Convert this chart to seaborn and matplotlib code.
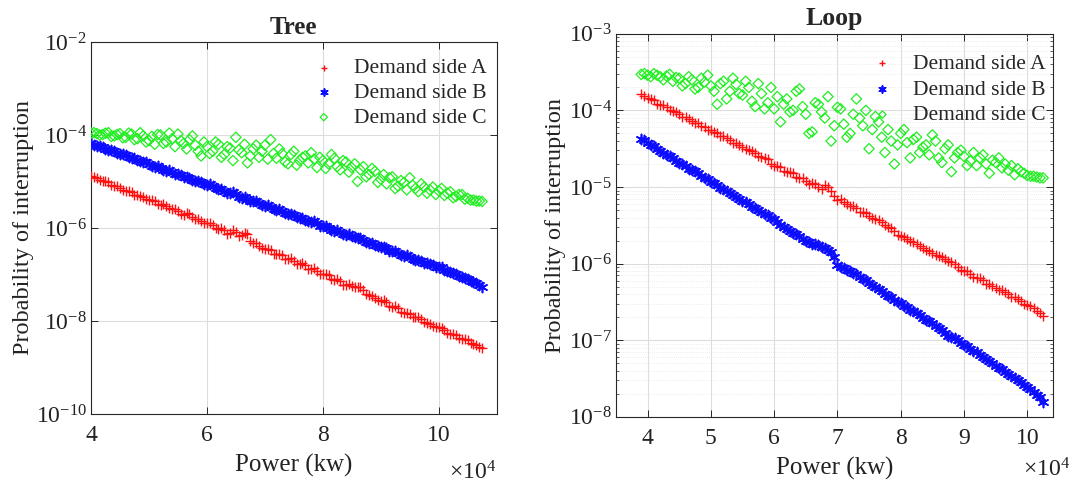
import matplotlib
matplotlib.use("Agg")
import numpy as np
import pandas as pd
import matplotlib.pyplot as plt
import seaborn as sns
from matplotlib.ticker import FixedLocator, LogFormatterMathtext, NullFormatter, MultipleLocator

# ---- data: power in units of 10^4 kW, interruption probabilities as log10 values ----
tree_power = [4.00, 4.05, 4.10, 4.15, 4.20, 4.25, 4.30, 4.35, 4.40, 4.45,
              4.50, 4.55, 4.60, 4.65, 4.70, 4.75, 4.80, 4.85, 4.90, 4.95,
              5.00, 5.05, 5.10, 5.15, 5.20, 5.25, 5.30, 5.35, 5.40, 5.45,
              5.50, 5.55, 5.60, 5.65, 5.70, 5.75, 5.80, 5.85, 5.90, 5.95,
              6.00, 6.05, 6.10, 6.15, 6.20, 6.25, 6.30, 6.35, 6.40, 6.45,
              6.50, 6.55, 6.60, 6.65, 6.70, 6.75, 6.80, 6.85, 6.90, 6.95,
              7.00, 7.05, 7.10, 7.15, 7.20, 7.25, 7.30, 7.35, 7.40, 7.45,
              7.50, 7.55, 7.60, 7.65, 7.70, 7.75, 7.80, 7.85, 7.90, 7.95,
              8.00, 8.05, 8.10, 8.15, 8.20, 8.25, 8.30, 8.35, 8.40, 8.45,
              8.50, 8.55, 8.60, 8.65, 8.70, 8.75, 8.80, 8.85, 8.90, 8.95,
              9.00, 9.05, 9.10, 9.15, 9.20, 9.25, 9.30, 9.35, 9.40, 9.45,
              9.50, 9.55, 9.60, 9.65, 9.70, 9.75, 9.80, 9.85, 9.90, 9.95,
              10.00, 10.05, 10.10, 10.15, 10.20, 10.25, 10.30, 10.35, 10.40, 10.45,
              10.50, 10.55, 10.60, 10.65, 10.70, 10.75]

tree_a_log10 = [-4.89, -4.90, -4.93, -4.97, -4.99, -5.00, -5.02, -5.07, -5.10, -5.10,
                -5.13, -5.18, -5.20, -5.21, -5.22, -5.28, -5.30, -5.31, -5.33, -5.38,
                -5.39, -5.40, -5.42, -5.48, -5.50, -5.49, -5.52, -5.58, -5.60, -5.60,
                -5.63, -5.70, -5.72, -5.68, -5.70, -5.77, -5.80, -5.80, -5.84, -5.90,
                -5.89, -5.90, -5.93, -6.00, -6.02, -6.00, -6.05, -6.12, -6.10, -6.05,
                -6.08, -6.18, -6.16, -6.10, -6.14, -6.28, -6.32, -6.33, -6.38, -6.44,
                -6.46, -6.45, -6.48, -6.55, -6.55, -6.55, -6.58, -6.66, -6.66, -6.65,
                -6.70, -6.77, -6.78, -6.76, -6.80, -6.88, -6.88, -6.87, -6.93, -7.00,
                -7.00, -6.98, -7.02, -7.10, -7.12, -7.10, -7.14, -7.22, -7.22, -7.20,
                -7.25, -7.28, -7.28, -7.26, -7.33, -7.42, -7.45, -7.46, -7.50, -7.56,
                -7.57, -7.56, -7.60, -7.68, -7.70, -7.68, -7.72, -7.80, -7.82, -7.82,
                -7.86, -7.92, -7.92, -7.91, -7.95, -8.03, -8.05, -8.06, -8.10, -8.14,
                -8.14, -8.16, -8.20, -8.26, -8.28, -8.27, -8.31, -8.37, -8.38, -8.39,
                -8.42, -8.48, -8.50, -8.51, -8.56, -8.58]

tree_b_log10 = [-4.18, -4.21, -4.23, -4.23, -4.26, -4.30, -4.32, -4.32, -4.35, -4.39,
                -4.41, -4.41, -4.44, -4.48, -4.50, -4.50, -4.53, -4.57, -4.59, -4.59,
                -4.62, -4.66, -4.68, -4.67, -4.70, -4.75, -4.77, -4.76, -4.80, -4.84,
                -4.84, -4.85, -4.90, -4.90, -4.92, -4.96, -4.99, -4.98, -5.02, -5.06,
                -5.07, -5.06, -5.10, -5.14, -5.16, -5.16, -5.20, -5.24, -5.25, -5.22,
                -5.27, -5.33, -5.35, -5.33, -5.37, -5.42, -5.43, -5.43, -5.47, -5.51,
                -5.52, -5.51, -5.55, -5.60, -5.61, -5.60, -5.64, -5.68, -5.70, -5.69,
                -5.73, -5.77, -5.78, -5.78, -5.83, -5.85, -5.87, -5.86, -5.90, -5.95,
                -5.96, -5.95, -6.00, -6.05, -6.06, -6.04, -6.08, -6.14, -6.15, -6.13,
                -6.18, -6.20, -6.22, -6.21, -6.26, -6.31, -6.33, -6.32, -6.36, -6.39,
                -6.40, -6.40, -6.44, -6.49, -6.50, -6.49, -6.53, -6.58, -6.60, -6.59,
                -6.62, -6.67, -6.68, -6.68, -6.72, -6.75, -6.76, -6.77, -6.80, -6.83,
                -6.84, -6.85, -6.90, -6.93, -6.94, -6.96, -7.00, -7.04, -7.05, -7.07,
                -7.10, -7.15, -7.17, -7.18, -7.23, -7.26]

tree_c_log10 = [-3.96, -3.95, -3.97, -4.00, -3.99, -3.96, -3.95, -4.03, -4.02, -3.99,
                -3.97, -4.06, -4.05, -3.96, -3.98, -4.10, -4.08, -3.95, -4.02, -4.15,
                -4.12, -4.03, -4.20, -3.99, -4.00, -4.18, -4.15, -3.96, -4.08, -4.25,
                -3.98, -4.12, -4.18, -4.30, -4.10, -4.02, -4.22, -4.35, -4.45, -4.15,
                -4.25, -4.40, -4.35, -4.15, -4.20, -4.48, -4.42, -4.25, -4.28, -4.55,
                -4.05, -4.32, -4.38, -4.20, -4.60, -4.45, -4.30, -4.22, -4.48, -4.35,
                -4.22, -4.52, -4.10, -4.40, -4.50, -4.30, -4.40, -4.58, -4.62, -4.42,
                -4.35, -4.65, -4.55, -4.48, -4.45, -4.60, -4.38, -4.52, -4.70, -4.48,
                -4.55, -4.72, -4.62, -4.42, -4.50, -4.68, -4.75, -4.55, -4.58, -4.80,
                -4.70, -4.62, -5.00, -4.75, -4.68, -4.90, -4.85, -4.72, -4.78, -5.02,
                -4.95, -4.85, -5.05, -4.92, -4.90, -5.15, -5.10, -4.98, -5.02, -5.18,
                -4.92, -5.08, -5.15, -5.22, -5.05, -5.12, -5.25, -5.18, -5.12, -5.28,
                -5.20, -5.15, -5.30, -5.25, -5.22, -5.35, -5.32, -5.28, -5.28, -5.38,
                -5.36, -5.40, -5.40, -5.42, -5.42, -5.43]

loop_power = [3.90, 3.95, 4.00, 4.05, 4.10, 4.15, 4.20, 4.25, 4.30, 4.35,
              4.40, 4.45, 4.50, 4.55, 4.60, 4.65, 4.70, 4.75, 4.80, 4.85,
              4.90, 4.95, 5.00, 5.05, 5.10, 5.15, 5.20, 5.25, 5.30, 5.35,
              5.40, 5.45, 5.50, 5.55, 5.60, 5.65, 5.70, 5.75, 5.80, 5.85,
              5.90, 5.95, 6.00, 6.05, 6.10, 6.15, 6.20, 6.25, 6.30, 6.35,
              6.40, 6.45, 6.50, 6.55, 6.60, 6.65, 6.70, 6.75, 6.80, 6.85,
              6.90, 6.95, 7.00, 7.05, 7.10, 7.15, 7.20, 7.25, 7.30, 7.35,
              7.40, 7.45, 7.50, 7.55, 7.60, 7.65, 7.70, 7.75, 7.80, 7.85,
              7.90, 7.95, 8.00, 8.05, 8.10, 8.15, 8.20, 8.25, 8.30, 8.35,
              8.40, 8.45, 8.50, 8.55, 8.60, 8.65, 8.70, 8.75, 8.80, 8.85,
              8.90, 8.95, 9.00, 9.05, 9.10, 9.15, 9.20, 9.25, 9.30, 9.35,
              9.40, 9.45, 9.50, 9.55, 9.60, 9.65, 9.70, 9.75, 9.80, 9.85,
              9.90, 9.95, 10.00, 10.05, 10.10, 10.15, 10.20, 10.25]

loop_a_log10 = [-3.79, -3.81, -3.84, -3.85, -3.87, -3.91, -3.93, -3.93, -3.96, -4.00,
                -4.01, -4.02, -4.05, -4.09, -4.08, -4.11, -4.14, -4.17, -4.16, -4.20,
                -4.22, -4.25, -4.25, -4.28, -4.30, -4.33, -4.34, -4.36, -4.39, -4.42,
                -4.42, -4.45, -4.48, -4.51, -4.52, -4.53, -4.55, -4.60, -4.61, -4.62,
                -4.64, -4.70, -4.72, -4.72, -4.74, -4.79, -4.80, -4.80, -4.82, -4.87,
                -4.88, -4.88, -4.92, -4.96, -4.95, -4.96, -5.00, -5.02, -4.98, -5.00,
                -5.05, -5.12, -5.17, -5.16, -5.20, -5.22, -5.25, -5.25, -5.28, -5.32,
                -5.33, -5.34, -5.38, -5.41, -5.42, -5.43, -5.46, -5.50, -5.52, -5.54,
                -5.58, -5.62, -5.64, -5.65, -5.68, -5.71, -5.72, -5.74, -5.77, -5.80,
                -5.82, -5.83, -5.86, -5.89, -5.90, -5.91, -5.94, -5.97, -5.98, -6.01,
                -6.05, -6.08, -6.10, -6.10, -6.13, -6.17, -6.19, -6.19, -6.22, -6.26,
                -6.27, -6.29, -6.32, -6.35, -6.35, -6.37, -6.40, -6.43, -6.44, -6.46,
                -6.49, -6.53, -6.54, -6.55, -6.58, -6.62, -6.64, -6.68]

loop_b_log10 = [-4.37, -4.39, -4.42, -4.45, -4.47, -4.50, -4.53, -4.56, -4.58, -4.60,
                -4.62, -4.66, -4.68, -4.70, -4.72, -4.76, -4.78, -4.79, -4.82, -4.86,
                -4.88, -4.90, -4.93, -4.95, -4.97, -5.01, -5.03, -5.05, -5.08, -5.11,
                -5.13, -5.15, -5.18, -5.20, -5.22, -5.26, -5.28, -5.30, -5.33, -5.35,
                -5.37, -5.40, -5.42, -5.46, -5.50, -5.52, -5.55, -5.58, -5.60, -5.61,
                -5.64, -5.68, -5.70, -5.72, -5.74, -5.74, -5.76, -5.78, -5.80, -5.82,
                -5.85, -5.92, -6.02, -6.04, -6.06, -6.08, -6.10, -6.12, -6.14, -6.18,
                -6.20, -6.22, -6.25, -6.28, -6.30, -6.33, -6.36, -6.40, -6.42, -6.44,
                -6.47, -6.50, -6.52, -6.55, -6.57, -6.60, -6.62, -6.64, -6.67, -6.71,
                -6.73, -6.75, -6.78, -6.82, -6.84, -6.87, -6.90, -6.94, -6.96, -6.97,
                -7.00, -7.04, -7.06, -7.08, -7.11, -7.14, -7.16, -7.19, -7.22, -7.25,
                -7.27, -7.30, -7.33, -7.36, -7.38, -7.41, -7.44, -7.47, -7.49, -7.52,
                -7.55, -7.59, -7.61, -7.64, -7.67, -7.71, -7.74, -7.80]

loop_c_log10 = [-3.53, -3.52, -3.54, -3.56, -3.52, -3.54, -3.56, -3.60, -3.55, -3.53,
                -3.62, -3.57, -3.58, -3.68, -3.65, -3.56, -3.60, -3.72, -3.70, -3.58,
                -3.63, -3.54, -3.68, -3.75, -3.92, -3.65, -3.62, -3.85, -3.75, -3.58,
                -3.66, -3.78, -3.80, -3.62, -3.70, -3.88, -3.95, -3.65, -3.78, -3.98,
                -3.90, -3.70, -3.98, -3.82, -4.15, -3.92, -3.85, -4.02, -4.00, -3.75,
                -3.72, -3.95, -4.05, -4.30, -4.28, -3.90, -3.92, -4.02, -4.10, -3.82,
                -4.40, -4.20, -3.96, -3.98, -4.18, -4.35, -4.30, -4.05, -3.85, -4.10,
                -4.20, -4.00, -4.50, -4.25, -4.08, -4.15, -4.35, -4.55, -4.25, -4.40,
                -4.70, -4.45, -4.30, -4.25, -4.42, -4.62, -4.38, -4.35, -4.55, -4.48,
                -4.45, -4.58, -4.32, -4.40, -4.62, -4.68, -4.50, -4.45, -4.80, -4.62,
                -4.55, -4.52, -4.60, -4.72, -4.66, -4.55, -4.72, -4.62, -4.58, -4.70,
                -4.82, -4.65, -4.68, -4.62, -4.75, -4.70, -4.78, -4.72, -4.84, -4.76,
                -4.80, -4.82, -4.85, -4.86, -4.86, -4.87, -4.88, -4.88]

series_names = ["Demand side A", "Demand side B", "Demand side C"]

for arr in (tree_a_log10, tree_b_log10, tree_c_log10):
    assert len(arr) == len(tree_power)
for arr in (loop_a_log10, loop_b_log10, loop_c_log10):
    assert len(arr) == len(loop_power)

# ---- styling ----
sns.set_theme(style="white")
plt.rcParams['font.family'] = ['Liberation Serif', 'DejaVu Serif']
plt.rcParams['mathtext.fontset'] = 'custom'
plt.rcParams['mathtext.rm'] = 'Liberation Serif'
plt.rcParams['mathtext.it'] = 'Liberation Serif:italic'
plt.rcParams['mathtext.bf'] = 'Liberation Serif:bold'

RED = '#ff1010'
BLUE = '#0c0cff'
GREEN = '#22ee22'
AXIS_COLOR = '#262626'
TEXT_COLOR = '#222222'
ASTERISK = (6, 2, 0)


def frame(power, a, b, c):
    rows = []
    for name, vals in zip(series_names, (a, b, c)):
        for p, v in zip(power, vals):
            rows.append({"power": p, "prob": 10.0 ** v, "series": name})
    return pd.DataFrame(rows)


def draw(ax, df):
    da = df[df.series == series_names[0]]
    db = df[df.series == series_names[1]]
    dc = df[df.series == series_names[2]]
    sns.scatterplot(data=da, x="power", y="prob", ax=ax, marker='+', s=48,
                    color=RED, linewidth=1.0, label=series_names[0], zorder=3)
    sns.scatterplot(data=db, x="power", y="prob", ax=ax, marker=ASTERISK, s=52,
                    color=BLUE, linewidth=1.2, label=series_names[1], zorder=3)
    sns.scatterplot(data=dc, x="power", y="prob", ax=ax, marker='D', s=28,
                    color=GREEN, facecolor='none', edgecolor=GREEN, linewidth=0.9,
                    label=series_names[2], zorder=3)
    ax.set_yscale('log')


def style_axes(ax, ylabelpad, offset_x, offset_y):
    for sp in ax.spines.values():
        sp.set_visible(True)
        sp.set_color(AXIS_COLOR)
        sp.set_linewidth(0.8)
    ax.tick_params(which='both', direction='in', top=True, right=True,
                   bottom=True, left=True, color=AXIS_COLOR, labelsize=17,
                   labelcolor=TEXT_COLOR)
    ax.tick_params(axis='x', pad=8)
    ax.tick_params(axis='y', pad=3)
    ax.tick_params(which='major', length=5, width=0.7)
    ax.tick_params(which='minor', length=2.5, width=0.5)
    ax.set_axisbelow(True)
    ax.set_xlabel("Power (kw)", fontsize=18, color=TEXT_COLOR, labelpad=6)
    ax.set_ylabel("Probability of interruption", fontsize=17.5, color=TEXT_COLOR,
                  labelpad=ylabelpad)
    ax.text(offset_x, offset_y, r"$\times\mathregular{10^{4}}$", transform=ax.transAxes,
            ha='right', va='center', fontsize=17, color=TEXT_COLOR)


fig = plt.figure(figsize=(10.73, 4.83), dpi=100)
ax1 = fig.add_axes([0.0848, 0.143, 0.378, 0.770])
ax2 = fig.add_axes([0.574, 0.137, 0.407, 0.793])

# Tree network
draw(ax1, frame(tree_power, tree_a_log10, tree_b_log10, tree_c_log10))
ax1.set_xlim(4, 11)
ax1.set_ylim(1e-10, 1e-2)
ax1.xaxis.set_major_locator(FixedLocator([4, 6, 8, 10]))
ax1.yaxis.set_major_locator(FixedLocator([1e-10, 1e-8, 1e-6, 1e-4, 1e-2]))
ax1.yaxis.set_minor_locator(FixedLocator([]))
ax1.yaxis.set_major_formatter(LogFormatterMathtext())
ax1.grid(True, which='major', color='#dddddd', linewidth=0.8)
style_axes(ax1, ylabelpad=1, offset_x=1.0, offset_y=-0.158)
ax1.set_title("Tree", fontsize=18, fontweight='bold', pad=6)

# Loop network
draw(ax2, frame(loop_power, loop_a_log10, loop_b_log10, loop_c_log10))
ax2.set_xlim(3.5, 10.4)
ax2.set_ylim(1e-8, 1e-3)
ax2.xaxis.set_major_locator(MultipleLocator(1))
ax2.yaxis.set_major_locator(FixedLocator([10.0 ** k for k in range(-8, -2)]))
ax2.yaxis.set_minor_locator(FixedLocator([m * 10.0 ** k for k in range(-8, -3) for m in range(2, 10)]))
ax2.yaxis.set_major_formatter(LogFormatterMathtext())
ax2.yaxis.set_minor_formatter(NullFormatter())
ax2.grid(True, which='major', color='#dddddd', linewidth=0.8)
ax2.grid(True, which='minor', axis='y', color='#e6e6e6', linewidth=0.6, linestyle=':')
style_axes(ax2, ylabelpad=2, offset_x=1.04, offset_y=-0.138)
ax2.set_title("Loop", fontsize=18.5, fontweight='bold', pad=6)

ax1.legend(loc='upper right', bbox_to_anchor=(1.015, 1.0), frameon=False,
           fontsize=15.5, handletextpad=0.4, labelspacing=0.22,
           markerscale=0.7, borderaxespad=0.35)
ax2.legend(loc='upper right', bbox_to_anchor=(1.02, 0.99), frameon=False,
           fontsize=15.5, handletextpad=0.4, labelspacing=0.26,
           markerscale=0.7, borderaxespad=0.35)

fig.savefig("out.png", dpi=100)
